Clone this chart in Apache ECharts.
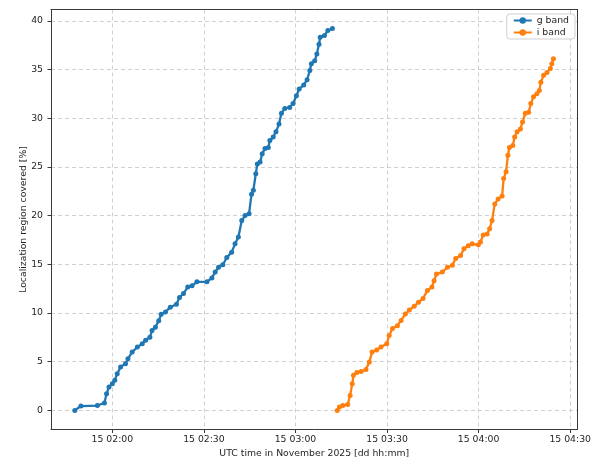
<!DOCTYPE html>
<html>
<head>
<meta charset="utf-8">
<script src="https://cdn.jsdelivr.net/npm/echarts@6/dist/echarts.min.js"></script>
<style>
html,body{margin:0;padding:0;background:#fff;}
#chart{width:594px;height:458px;}
</style>
</head>
<body>
<div id="chart"></div>
<script>
// Times in minutes after 00:00 UTC, 15 November 2025
const gTimes = [107.7,109.7,115.1,117.4,118.1,118.9,120.0,120.8,121.6,122.7,124.3,125.1,126.5,128.2,129.8,130.9,132.3,133.0,134.1,135.2,136.0,137.4,139.0,141.0,142.0,143.3,144.7,146.1,147.7,151.0,152.6,153.7,154.8,156.2,157.5,159.1,160.2,161.3,162.4,163.5,164.8,165.6,166.2,167.0,167.5,168.4,169.1,170.0,171.1,171.6,172.7,173.6,174.6,175.4,176.5,178.1,179.2,180.3,181.2,182.7,183.8,184.7,185.2,186.3,187.0,187.7,188.1,189.5,190.6,192.1];
const gValues = [0,0.45,0.5,0.77,1.7,2.4,2.74,3.1,3.77,4.45,4.8,5.3,6.0,6.5,6.85,7.2,7.5,8.2,8.55,9.2,9.86,10.1,10.6,10.9,11.6,12.0,12.66,12.8,13.2,13.2,13.6,14.2,14.7,14.96,15.7,16.25,17.1,17.8,19.5,20.0,20.2,22.2,22.6,24.3,25.3,25.5,26.35,26.9,27.0,27.7,28.06,28.6,29.4,30.5,31.0,31.1,31.5,32.3,33.0,33.4,33.95,34.9,35.6,35.9,36.6,37.6,38.3,38.5,39.0,39.2];
const iTimes = [193.7,194.4,195.5,197.1,197.9,198.6,199.0,200.1,201.5,203.1,204.2,205.1,206.6,208.0,209.9,210.7,211.8,213.4,214.6,216.0,217.3,218.9,220.3,221.8,223.2,224.7,225.4,226.2,228.1,229.8,231.4,232.5,234.1,235.2,236.6,237.9,239.9,240.6,241.5,242.8,243.6,244.4,245.3,246.4,247.7,248.2,249.0,249.6,250.1,251.2,251.8,252.6,253.7,254.4,255.3,256.4,257.1,258.0,259.1,259.9,260.4,261.3,262.4,263.5,264.0,264.5];
const iValues = [0,0.34,0.5,0.6,1.54,2.74,3.6,3.9,4.0,4.2,4.96,6.0,6.2,6.5,6.85,7.7,8.4,8.7,9.24,9.9,10.3,10.7,11.1,11.5,12.3,12.66,13.3,14.0,14.2,14.7,14.9,15.6,15.9,16.6,16.9,17.1,17.0,17.3,18.0,18.1,18.65,19.5,21.2,21.7,22.0,23.8,24.5,26.2,27.0,27.2,28.06,28.6,28.9,29.6,30.5,30.6,31.5,32.2,32.5,32.85,33.7,34.4,34.7,35.1,35.6,36.1];
const seriesNames = ['g band', 'i band'];
const xRange = [99.9, 272.4];
const yRange = [-1.96, 41.16];

function pairs(ts, vs){ return ts.map((t,k)=>[t, vs[k]]); }
function fmtTime(v){
  const m = Math.round(v);
  const hh = String(Math.floor(m/60)).padStart(2,'0');
  const mm = String(m%60).padStart(2,'0');
  return '15 ' + hh + ':' + mm;
}

const FONT = 'DejaVu Sans';
const TXT = '#262626';
const FRAME = '#3a3a3a';
const chart = echarts.init(document.getElementById('chart'), null, {renderer:'canvas'});
const gridLine = {show:true, showMinLine:false, showMaxLine:false, lineStyle:{color:'#c4c4c4', type:[4,3], width:0.8}};
const frameAxis = {
  axisLine:{show:true, onZero:false, lineStyle:{color:FRAME, width:1}},
  axisTick:{show:false}, axisLabel:{show:false}, splitLine:{show:false}
};
chart.setOption({
  animation:false,
  backgroundColor:'#fff',
  textStyle:{fontFamily:FONT},
  grid:{left:51, right:16.5, top:9.5, bottom:28.5, outerBoundsMode:'none', containLabel:false},
  legend:{
    data: seriesNames,
    orient:'vertical', right:19, top:14,
    itemWidth:18, itemHeight:8, itemGap:3,
    padding:[2,6,2,6],
    backgroundColor:'#fff', borderColor:'#cfcfcf', borderWidth:1, borderRadius:3,
    textStyle:{fontFamily:FONT, fontSize:9.3, color:TXT}
  },
  xAxis:[{
    type:'value', min:xRange[0], max:xRange[1],
    minInterval:30, maxInterval:30, splitNumber:6,
    name:'UTC time in November 2025 [dd hh:mm]', nameLocation:'middle', nameGap:19.5, nameMoveOverlap:false,
    nameTextStyle:{fontFamily:FONT, fontSize:9.3, color:TXT},
    axisLine:{show:true, onZero:false, lineStyle:{color:FRAME, width:1}},
    axisTick:{show:true, inside:false, length:3.5, lineStyle:{color:FRAME}},
    axisLabel:{fontFamily:FONT, fontSize:9.3, color:TXT, margin:6, showMinLabel:false, showMaxLabel:false, formatter:fmtTime},
    splitLine:gridLine
  },{
    type:'value', position:'top', min:xRange[0], max:xRange[1], ...frameAxis
  }],
  yAxis:[{
    type:'value', min:yRange[0], max:yRange[1],
    minInterval:5, maxInterval:5, splitNumber:8,
    name:'Localization region covered [%]', nameLocation:'middle', nameGap:23, nameMoveOverlap:false,
    nameTextStyle:{fontFamily:FONT, fontSize:9.3, color:TXT},
    axisLine:{show:true, onZero:false, lineStyle:{color:FRAME, width:1}},
    axisTick:{show:true, inside:false, length:3.5, lineStyle:{color:FRAME}},
    axisLabel:{fontFamily:FONT, fontSize:9.3, color:TXT, margin:8, showMinLabel:false, showMaxLabel:false},
    splitLine:gridLine
  },{
    type:'value', position:'right', min:yRange[0], max:yRange[1], ...frameAxis
  }],
  series:[
    {name:seriesNames[0], type:'line', data:pairs(gTimes,gValues), color:'#1f77b4',
     symbol:'circle', symbolSize:5, showSymbol:true,
     lineStyle:{width:2.3, color:'#1f77b4'}, itemStyle:{color:'#1f77b4'}},
    {name:seriesNames[1], type:'line', data:pairs(iTimes,iValues), color:'#ff7f0e',
     symbol:'circle', symbolSize:5, showSymbol:true,
     lineStyle:{width:2.3, color:'#ff7f0e'}, itemStyle:{color:'#ff7f0e'}}
  ]
});
</script>
</body>
</html>
